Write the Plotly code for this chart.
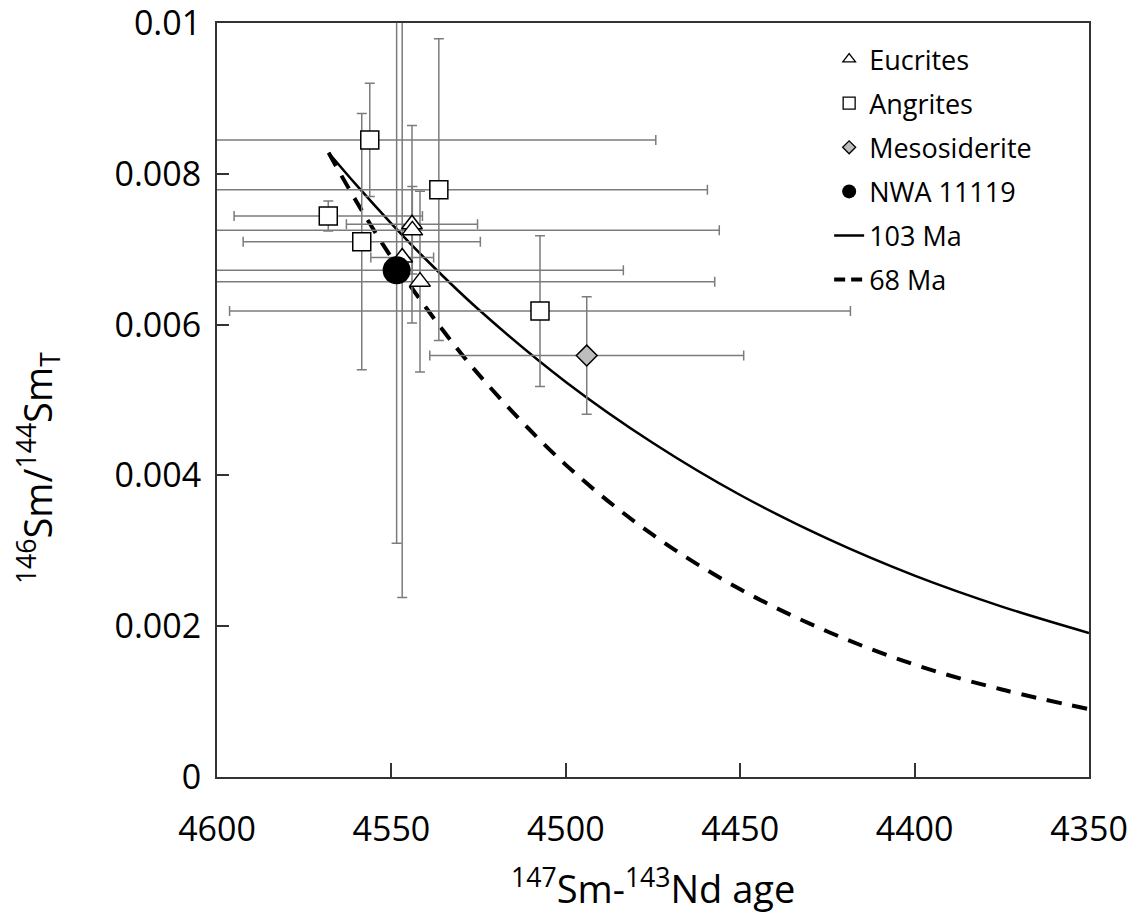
import plotly.graph_objects as go

# ---------------- data ----------------
eucrite_age = [4544.1, 4544.0, 4546.9, 4541.8]
eucrite_ratio = [0.00733, 0.00725, 0.00689, 0.00657]
eucrite_age_err = [18.8, 88.0, 9.0, 84.5]
eucrite_ratio_err = [0.00131, 0.00058, 0.00451, 0.00120]

angrite_age = [4556.2, 4536.4, 4568.1, 4558.5, 4507.4]
angrite_ratio = [0.00845, 0.00779, 0.00744, 0.00710, 0.00618]
angrite_age_err = [82.0, 77.0, 27.0, 34.0, 89.0]
angrite_ratio_err = [0.00075, 0.00200, 0.00020, 0.00170, 0.00100]

meso_age = [4494.0]
meso_ratio = [0.00559]
meso_age_err = [45.0]
meso_ratio_err = [0.00078]

nwa_age = [4548.5]
nwa_ratio = [0.00672]
nwa_age_err = [65.0]
nwa_ratio_err = [0.00362]

curve_age = [4568, 4560, 4550, 4540, 4525, 4500, 4475, 4450, 4425, 4400, 4375, 4350]
curve_103 = [0.00828, 0.00785, 0.00734, 0.00686, 0.00620, 0.00524, 0.00443,
             0.00374, 0.00316, 0.00267, 0.00226, 0.00191]
curve_68 = [0.00828, 0.00763, 0.00689, 0.00622, 0.00534, 0.00414, 0.00321,
            0.00249, 0.00193, 0.00149, 0.00116, 0.00090]

x_ticks = [4600, 4550, 4500, 4450, 4400, 4350]
y_ticks = [0, 0.002, 0.004, 0.006, 0.008, 0.01]
y_tick_text = ["0", "0.002", "0.004", "0.006", "0.008", "0.01"]

FONT = "Open Sans"
ERR_COLOR = "#7c7c7c"

fig = go.Figure()

# model curves
fig.add_trace(go.Scatter(x=curve_age, y=curve_103, mode="lines", line_shape="spline",
                         line=dict(color="black", width=2.5), showlegend=False))
fig.add_trace(go.Scatter(x=curve_age, y=curve_68, mode="lines", line_shape="spline",
                         line=dict(color="black", width=4, dash="15px,11px"), showlegend=False))


def err(arr):
    return dict(type="data", array=arr, visible=True, color=ERR_COLOR, thickness=1.5, width=5)


fig.add_trace(go.Scatter(x=nwa_age, y=nwa_ratio, mode="markers", showlegend=False,
                         error_x=err(nwa_age_err), error_y=err(nwa_ratio_err),
                         marker=dict(symbol="circle", size=1, color="rgba(0,0,0,0)")))
fig.add_trace(go.Scatter(x=angrite_age, y=angrite_ratio, mode="markers", showlegend=False,
                         error_x=err(angrite_age_err), error_y=err(angrite_ratio_err),
                         marker=dict(symbol="square", size=18, color="white",
                                     line=dict(color="black", width=1.5))))
fig.add_trace(go.Scatter(x=meso_age, y=meso_ratio, mode="markers", showlegend=False,
                         error_x=err(meso_age_err), error_y=err(meso_ratio_err),
                         marker=dict(symbol="diamond", size=16, color="#bdbdbd",
                                     line=dict(color="black", width=1.5))))
fig.add_trace(go.Scatter(x=eucrite_age, y=eucrite_ratio, mode="markers", showlegend=False,
                         error_x=err(eucrite_age_err), error_y=err(eucrite_ratio_err),
                         marker=dict(symbol="triangle-up", size=18, color="white",
                                     line=dict(color="black", width=1.5))))
fig.add_trace(go.Scatter(x=nwa_age, y=nwa_ratio, mode="markers", showlegend=False,
                         marker=dict(symbol="circle", size=28, color="black")))

# legend entries
leg = [
    ("Eucrites", dict(symbol="triangle-up", size=11, color="white", line=dict(color="black", width=1.3)), None),
    ("Angrites", dict(symbol="square", size=12, color="white", line=dict(color="black", width=1.3)), None),
    ("Mesosiderite", dict(symbol="diamond", size=10, color="#bdbdbd", line=dict(color="black", width=1.3)), None),
    ("NWA 11119", dict(symbol="circle", size=14, color="black"), None),
    ("103 Ma", None, dict(color="black", width=2.5)),
    ("68 Ma", None, dict(color="black", width=4, dash="11px,6px")),
]
for i, (name, mk, ln) in enumerate(leg):
    if mk is not None:
        fig.add_trace(go.Scatter(x=[None], y=[None], mode="markers", name=name,
                                 marker=mk, legendgroup=f"g{i}"))
    else:
        fig.add_trace(go.Scatter(x=[None], y=[None], mode="lines", name=name,
                                 line=ln, legendgroup=f"g{i}"))

# page has an 8px body margin, so the figure is 8px smaller than the window
fig.update_layout(
    width=1129, height=905,
    margin=dict(l=209, r=48, t=15, b=136, autoexpand=False),
    paper_bgcolor="white", plot_bgcolor="white",
    font=dict(family=FONT, color="black"),
    showlegend=True,
    legend=dict(x=0.702, y=0.984, xanchor="left", yanchor="top",
                font=dict(size=27, family=FONT), bgcolor="rgba(0,0,0,0)",
                tracegroupgap=6),
    xaxis=dict(range=[4600, 4350], tickvals=x_ticks, ticks="inside", ticklen=14,
               tickwidth=2, tickcolor="#333", showline=True, linecolor="#333", linewidth=2,
               mirror=True, showgrid=False, zeroline=False, ticklabeloverflow="allow",
               automargin=False,
               tickfont=dict(size=34, family=FONT), ticklabelstandoff=21),
    yaxis=dict(range=[0, 0.0100001], tickvals=y_ticks, ticktext=y_tick_text, ticks="inside",
               ticklen=12, tickwidth=2, tickcolor="#333", showline=True, linecolor="#333",
               linewidth=2, mirror=True, showgrid=False, zeroline=False,
               ticklabeloverflow="allow", automargin=False,
               tickfont=dict(size=34, family=FONT), ticklabelstandoff=7),
    annotations=[
        dict(text="<sup>147</sup>Sm-<sup>143</sup>Nd age", xref="paper", yref="paper",
             x=0.5, y=-0.145, xanchor="center", yanchor="middle", showarrow=False,
             font=dict(size=38, family=FONT)),
        dict(text="<sup>146</sup>Sm/<sup>144</sup>Sm<sub>T</sub>", xref="paper", yref="paper",
             x=-0.205, y=0.41, xanchor="center", yanchor="middle", showarrow=False,
             textangle=-90, font=dict(size=38, family=FONT)),
    ],
)

fig.write_html("out.html")
